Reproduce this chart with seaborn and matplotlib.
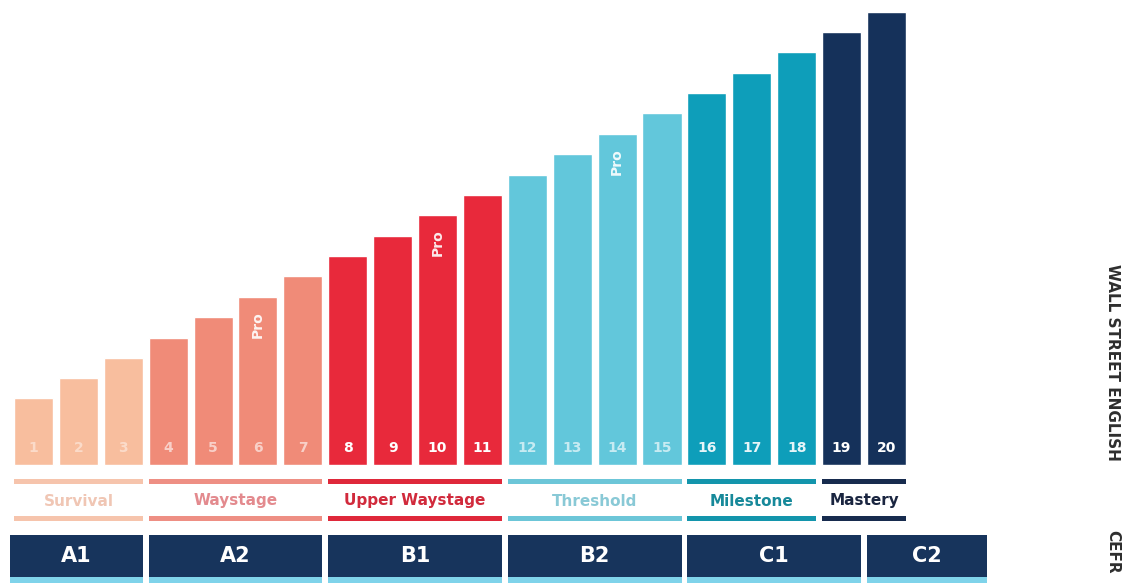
import matplotlib
matplotlib.use("Agg")
import matplotlib.pyplot as plt
import numpy as np
import pandas as pd
import seaborn as sns
from matplotlib.patches import Rectangle

# Wall Street English levels 1-20 and the height of each step
levels = [str(i) for i in range(1, 21)]
heights = [67, 87, 107, 127, 148, 168, 189, 209, 229, 250,
           270, 290, 311, 331, 352, 372, 392, 413, 433, 453]

group_names = ["Survival", "Waystage", "Upper Waystage", "Threshold", "Milestone", "Mastery"]
group_sizes = [3, 4, 4, 4, 3, 2]
bar_colors = ["#F8BE9E", "#F08B78", "#E8293B", "#62C7DB", "#0E9EBA", "#15315A"]
line_colors = ["#F6C4AC", "#EE8F84", "#DF283A", "#6CC6D8", "#1395AC", "#172B4E"]
text_colors = ["#F0C6B4", "#E38A8E", "#D12A3C", "#89C9D6", "#17899A", "#1A2540"]
number_alpha = [0.45, 0.6, 1.0, 0.65, 0.9, 1.0]

cefr_labels = ["A1", "A2", "B1", "B2", "C1", "C2"]
cefr_first = [1, 4, 8, 12, 16, 20]
cefr_last = [3, 7, 11, 15, 19, 21.8]

pro_levels = [6, 10, 14]

NAVY = "#17345C"
STRIP = "#7FD3EA"
W = 0.87

group_of_level = [g for g, n in zip(group_names, group_sizes) for _ in range(n)]
df = pd.DataFrame({"level": levels, "height": heights, "group": group_of_level})

sns.set_theme(style="white")
plt.rcParams["font.family"] = ["DejaVu Sans"]

fig = plt.figure(figsize=(11.3, 5.83), dpi=100)
ax = fig.add_axes([0, 0, 1, 1])
sns.barplot(data=df, x="level", y="height", hue="group", order=levels,
            hue_order=group_names, palette=dict(zip(group_names, bar_colors)),
            dodge=False, width=W, legend=False, saturation=1, ax=ax)

ax.set_xlim(-0.746, -0.746 + 25.17)
ax.set_ylim(-118, 465)
ax.axis("off")

# level numbers and "Pro" tags inside the bars
for i, (lvl, h, g) in enumerate(zip(levels, heights, group_of_level)):
    gi = group_names.index(g)
    ax.text(i, 17, lvl, ha="center", va="center", color="white",
            alpha=number_alpha[gi], fontsize=10, fontweight="bold")
    if int(lvl) in pro_levels:
        ax.text(i, h - 28, "Pro", ha="center", va="center", rotation=90,
                color="white", alpha=0.9, fontsize=10, fontweight="bold")

# level-group bands with their names
start = 0
for gi, (name, n) in enumerate(zip(group_names, group_sizes)):
    x0 = start - W / 2
    x1 = start + n - 1 + W / 2
    for y0 in (-19, -56):
        ax.add_patch(Rectangle((x0, y0), x1 - x0, 5, color=line_colors[gi], lw=0))
    ax.text((x0 + x1) / 2, -36, name, ha="center", va="center",
            color=text_colors[gi], fontsize=11, fontweight="bold")
    start += n

# CEFR boxes
for lab, a, b in zip(cefr_labels, cefr_first, cefr_last):
    x0 = a - 1 - W / 2 - (0.09 if a == 1 else 0)
    x1 = b - 1 + W / 2
    ax.add_patch(Rectangle((x0, -112), x1 - x0, 42, color=NAVY, lw=0))
    ax.add_patch(Rectangle((x0, -118), x1 - x0, 6, color=STRIP, lw=0))
    ax.text((x0 + x1) / 2, -91, lab, ha="center", va="center",
            color="white", fontsize=15, fontweight="bold")

fig.text(1113 / 1130, 1 - 362 / 583, "WALL STREET ENGLISH", rotation=270,
         ha="center", va="center", color="#2E2E2E", fontsize=11, fontweight="bold")
fig.text(1113 / 1130, 1 - 530 / 583, "CEFR", rotation=270,
         ha="center", va="top", color="#2E2E2E", fontsize=11, fontweight="bold")

fig.savefig("out.png", dpi=100, facecolor="white")
